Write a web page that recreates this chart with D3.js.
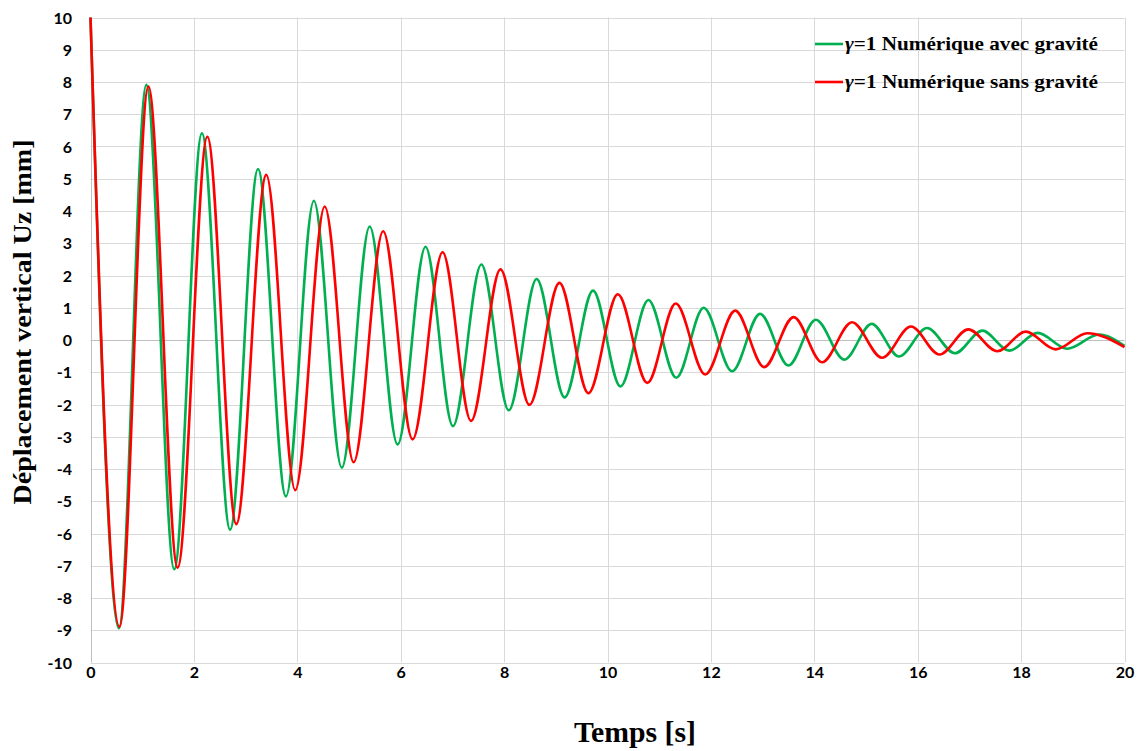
<!DOCTYPE html>
<html><head><meta charset="utf-8">
<script src="https://cdnjs.cloudflare.com/ajax/libs/d3/7.8.5/d3.min.js"></script>
<style>body{margin:0;background:#fff}svg{display:block}</style>
</head><body>
<svg id="c" width="1139" height="751"></svg>
<script>
// Series: extrema (time s, displacement mm)
const greenT = [0, 0.55, 1.08, 1.62, 2.155, 2.70, 3.24, 3.78, 4.32, 4.86, 5.40, 5.94, 6.48, 7.01, 7.56, 8.09, 8.63, 9.17, 9.72, 10.25, 10.79, 11.33, 11.86, 12.41, 12.95, 13.50, 14.03, 14.58, 15.11, 15.64, 16.18, 16.72, 17.25, 17.77, 18.32, 18.89, 19.51, 20];
const greenV = [10, -8.94, 7.91, -7.11, 6.41, -5.88, 5.30, -4.85, 4.32, -3.96, 3.52, -3.24, 2.89, -2.67, 2.34, -2.18, 1.89, -1.78, 1.53, -1.44, 1.24, -1.17, 1.00, -0.97, 0.81, -0.79, 0.63, -0.61, 0.50, -0.51, 0.37, -0.41, 0.29, -0.33, 0.22, -0.27, 0.17, -0.18];
const redT = [0, 0.56, 1.12, 1.685, 2.26, 2.82, 3.40, 3.96, 4.53, 5.09, 5.66, 6.23, 6.81, 7.36, 7.93, 8.49, 9.07, 9.63, 10.20, 10.77, 11.32, 11.89, 12.47, 13.03, 13.60, 14.15, 14.73, 15.31, 15.87, 16.42, 16.98, 17.54, 18.09, 18.67, 19.28, 20];
const redV = [10, -8.89, 7.86, -7.06, 6.30, -5.71, 5.12, -4.66, 4.14, -3.79, 3.37, -3.08, 2.72, -2.51, 2.19, -2.01, 1.77, -1.65, 1.42, -1.33, 1.13, -1.07, 0.91, -0.84, 0.71, -0.69, 0.55, -0.55, 0.42, -0.45, 0.33, -0.35, 0.26, -0.29, 0.21, -0.22];
const xTicks = [0, 2, 4, 6, 8, 10, 12, 14, 16, 18, 20];
const yTicks = [-10, -9, -8, -7, -6, -5, -4, -3, -2, -1, 0, 1, 2, 3, 4, 5, 6, 7, 8, 9, 10];
const seriesNames = ["Numérique avec gravité", "Numérique sans gravité"];
const seriesColors = ["#00B050", "#FF0000"];
const xTitle = "Temps [s]";
const yTitle = "Déplacement vertical Uz [mm]";

const svg = d3.select("#c");
const x = d3.scaleLinear().domain([0, 20]).range([90.5, 1124.5]);
const y = d3.scaleLinear().domain([-10, 10]).range([662.5, 17.5]);
const fmt = d => String(d).replace("\u2212", "-");

// gridlines
const g = svg.append("g");
g.selectAll(".hg").data(yTicks).join("line")
  .attr("x1", x(0)).attr("x2", x(20))
  .attr("y1", d => Math.round(y(d)) + 0.5).attr("y2", d => Math.round(y(d)) + 0.5)
  .attr("stroke", d => d === 0 ? "#BFBFBF" : "#D9D9D9").attr("stroke-width", 1);
g.selectAll(".vg").data(xTicks).join("line")
  .attr("y1", y(10)).attr("y2", y(-10))
  .attr("x1", d => Math.round(x(d)) + 0.5).attr("x2", d => Math.round(x(d)) + 0.5)
  .attr("stroke", d => d === 0 ? "#BFBFBF" : "#D9D9D9").attr("stroke-width", 1);

// tick labels via axes
const yAxis = d3.axisLeft(y).tickValues(yTicks).tickSize(0).tickPadding(0).tickFormat(fmt);
const ya = svg.append("g").attr("transform", "translate(72,0)").call(yAxis);
ya.select(".domain").remove();
ya.selectAll("text").attr("font-family", "Lato, 'Open Sans', sans-serif").attr("font-weight", 700)
  .attr("font-size", 16).attr("fill", "#000").attr("dy", "0.35em");

const xAxis = d3.axisBottom(x).tickValues(xTicks).tickSize(0).tickPadding(0).tickFormat(fmt);
const xa = svg.append("g").attr("transform", "translate(0,667)").call(xAxis);
xa.select(".domain").remove();
xa.selectAll("text").attr("font-family", "Lato, 'Open Sans', sans-serif").attr("font-weight", 700)
  .attr("font-size", 16).attr("fill", "#000").attr("dy", "0.71em");

// lines
const line = d3.line().curve(d3.curveMonotoneX).x(d => x(d[0])).y(d => y(d[1]));
const greenData = greenT.map((t, i) => [t, greenV[i]]);
const redData = redT.map((t, i) => [t, redV[i]]);
[greenData, redData].forEach((data, i) => {
  svg.append("path").datum(data).attr("d", line).attr("fill", "none")
    .attr("stroke", seriesColors[i]).attr("stroke-width", 2.6).attr("stroke-linejoin", "round");
});

// titles
svg.append("text").attr("x", 635).attr("y", 742).attr("text-anchor", "middle")
  .attr("font-family", "'Liberation Serif', 'DejaVu Serif', serif").attr("font-weight", 700)
  .attr("font-size", 29).attr("fill", "#000").attr("textLength", 122).attr("lengthAdjust", "spacingAndGlyphs").text(xTitle);
svg.append("text").attr("transform", "translate(31,322) rotate(-90)").attr("text-anchor", "middle")
  .attr("font-family", "'Liberation Serif', 'DejaVu Serif', serif").attr("font-weight", 700)
  .attr("font-size", 26).attr("fill", "#000").attr("textLength", 365).attr("lengthAdjust", "spacingAndGlyphs").text(yTitle);

// legend
const leg = svg.append("g");
const legY = [44, 82];
seriesNames.forEach((n, i) => {
  leg.append("line").attr("x1", 815).attr("x2", 843).attr("y1", legY[i]).attr("y2", legY[i])
    .attr("stroke", seriesColors[i]).attr("stroke-width", 2.6);
  const t = leg.append("text").attr("x", 845).attr("y", legY[i] + 6)
    .attr("font-family", "'Liberation Serif', 'DejaVu Serif', serif").attr("font-weight", 700)
    .attr("font-size", 19).attr("fill", "#000").attr("textLength", 253).attr("lengthAdjust", "spacingAndGlyphs");
  t.append("tspan").attr("font-style", "italic").text("γ");
  t.append("tspan").text("=1 " + n);
});
</script>
</body></html>
